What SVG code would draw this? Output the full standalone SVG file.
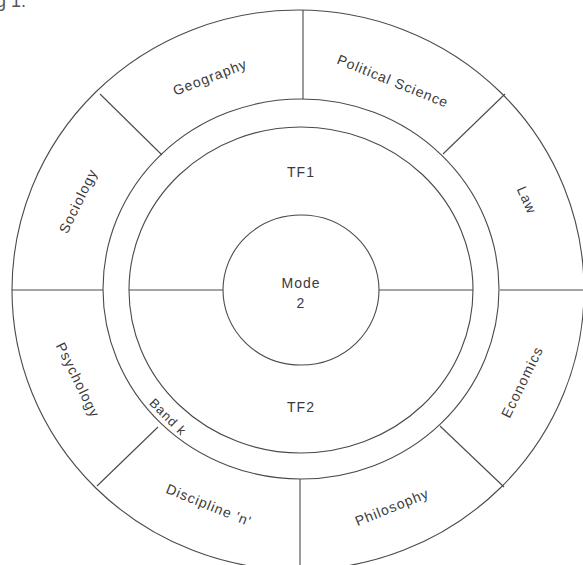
<svg xmlns="http://www.w3.org/2000/svg" width="583" height="565" viewBox="0 0 583 565">
<style>
.ring{fill:none;stroke:#4a4a4a;stroke-width:1.1}
.div{stroke:#4a4a4a;stroke-width:1.1;fill:none}
.lbl{font-family:"Liberation Sans",Arial,sans-serif;font-size:14px;fill:#3a3a3a;letter-spacing:1px;text-anchor:middle;dominant-baseline:central}
</style>
<rect width="583" height="565" fill="#ffffff"/>
<text x="-4" y="7" style="font-family:'Liberation Sans',Arial,sans-serif;font-size:18px;fill:#555">g 1.</text>
<g id="rings">
<ellipse class="ring" cx="298" cy="290" rx="286" ry="280"/>
<ellipse class="ring" cx="301" cy="289" rx="198" ry="190"/>
<ellipse class="ring" cx="301" cy="290" rx="172" ry="163"/>
</g>
<g id="connectors">
<line class="div" x1="12" y1="290" x2="103" y2="290"/>
<line class="div" x1="129" y1="290" x2="223" y2="290"/>
<line class="div" x1="379" y1="290" x2="473" y2="290"/>
<line class="div" x1="500" y1="290" x2="584" y2="290"/>
<line class="div" x1="100" y1="94" x2="162" y2="155"/>
<line class="div" x1="303" y1="10" x2="303" y2="99"/>
<line class="div" x1="505" y1="94" x2="443" y2="154"/>
<line class="div" x1="440" y1="426" x2="504" y2="487"/>
<line class="div" x1="300" y1="479" x2="300" y2="570"/>
<line class="div" x1="158" y1="427" x2="97" y2="486"/>
</g>
<g id="mode2">
<ellipse class="ring" cx="301" cy="290" rx="78" ry="75"/>
<text class="lbl" x="301" y="283">Mode</text>
<text class="lbl" x="301" y="303">2</text>
</g>
<g id="tf1"><text class="lbl" x="301" y="172">TF1</text></g>
<g id="tf2"><text class="lbl" x="301" y="407">TF2</text></g>
<g id="bandk"><text class="lbl" style="font-size:13px" transform="translate(168,417) rotate(45)">Band k</text></g>
<g id="geography"><text class="lbl" transform="translate(210,77) rotate(-21)">Geography</text></g>
<g id="political-science"><text class="lbl" transform="translate(393,81) rotate(22)">Political Science</text></g>
<g id="law"><text class="lbl" transform="translate(527,200) rotate(66)">Law</text></g>
<g id="economics"><text class="lbl" transform="translate(522,382) rotate(-64)">Economics</text></g>
<g id="philosophy"><text class="lbl" transform="translate(392,507) rotate(-22)">Philosophy</text></g>
<g id="discipline-n"><text class="lbl" transform="translate(209,505) rotate(22)">Discipline 'n'</text></g>
<g id="psychology"><text class="lbl" transform="translate(78,380) rotate(64)">Psychology</text></g>
<g id="sociology"><text class="lbl" transform="translate(78,201) rotate(-64)">Sociology</text></g>
</svg>
